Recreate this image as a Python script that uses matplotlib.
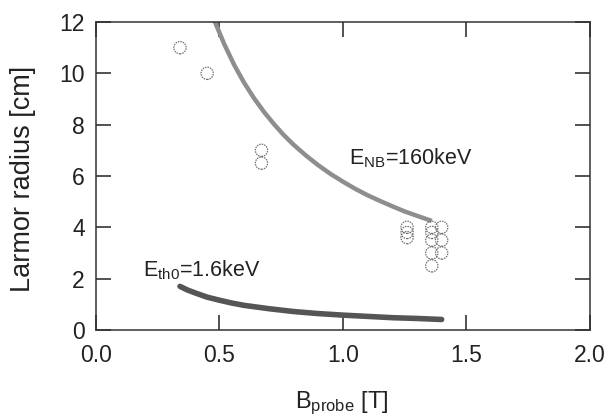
import numpy as np
import matplotlib
matplotlib.use('Agg')
from matplotlib import pyplot as plt

plt.rcParams['font.family'] = ['Liberation Sans', 'DejaVu Sans']
plt.rcParams['mathtext.fontset'] = 'custom'
plt.rcParams['mathtext.rm'] = 'Liberation Sans'

# Larmor radius curve for E_NB = 160 keV
nbField = [0.48, 0.52, 0.56, 0.60, 0.64, 0.68, 0.72, 0.76, 0.80, 0.85,
           0.90, 0.95, 1.00, 1.05, 1.10, 1.15, 1.20, 1.25, 1.30, 1.36]
nbRadius = [12.04, 11.12, 10.32, 9.63, 9.03, 8.50, 8.03, 7.60, 7.22, 6.80,
            6.42, 6.08, 5.78, 5.50, 5.25, 5.03, 4.82, 4.62, 4.45, 4.25]

# thermal curve, E_th0 = 1.6 keV
thField = [0.34, 0.37, 0.40, 0.45, 0.50, 0.55, 0.60, 0.70, 0.80, 0.90,
           1.00, 1.10, 1.20, 1.30, 1.40]
thRadius = [1.70, 1.56, 1.45, 1.28, 1.16, 1.05, 0.96, 0.83, 0.72, 0.64,
            0.58, 0.53, 0.48, 0.45, 0.41]

# measured points
measField = [0.34, 0.45, 0.67, 0.67, 1.26, 1.26, 1.26,
             1.36, 1.36, 1.36, 1.36, 1.36, 1.40, 1.40, 1.40]
measRadius = [11.0, 10.0, 7.0, 6.5, 4.0, 3.8, 3.6,
              4.0, 3.8, 3.5, 3.0, 2.5, 4.0, 3.5, 3.0]

fig = plt.figure(figsize=(6.08, 4.19), dpi=100)
ax = fig.add_axes([0.158, 0.2124, 0.812, 0.7351])

ax.plot(nbField, nbRadius, color='#8e8e8e', linewidth=3.2, solid_capstyle='butt')
ax.plot(thField, thRadius, color='#555555', linewidth=4, solid_capstyle='round')
ax.scatter(measField, measRadius, s=78, facecolors='none', edgecolors='#707070',
           linewidths=0.9, linestyle=(0, (1.2, 0.8)), zorder=3)

ax.text(1.024, 6.7, r'$\mathregular{E_{NB}}$=160keV', fontsize=15.5, va='center', color='#222222')
ax.text(0.19, 2.34, r'$\mathregular{E_{th0}}$=1.6keV', fontsize=15.5, va='center', color='#222222')

ax.set_xlim(0, 2.0)
ax.set_ylim(0, 12)
ax.set_xticks(np.arange(0, 2.01, 0.5))
ax.set_xticklabels(['0.0', '0.5', '1.0', '1.5', '2.0'])
ax.set_yticks(np.arange(0, 13, 2))
ax.tick_params(direction='in', length=11, width=1.1, color='#222222',
               top=True, right=True, labelsize=16.5, labelcolor='#222222')
ax.tick_params(axis='x', pad=10)
ax.tick_params(axis='y', pad=8)
for s in ax.spines.values():
    s.set_linewidth(1.1)
    s.set_color('#333333')

ax.set_ylabel('Larmor radius [cm]', fontsize=19.5, color='#222222')
ax.set_xlabel(r'$\mathregular{B_{probe}}$ [T]', fontsize=17, color='#222222')
ax.yaxis.set_label_coords(-0.122, 0.49)
ax.xaxis.set_label_coords(0.498, -0.195)

fig.savefig('out.png', dpi=100)
